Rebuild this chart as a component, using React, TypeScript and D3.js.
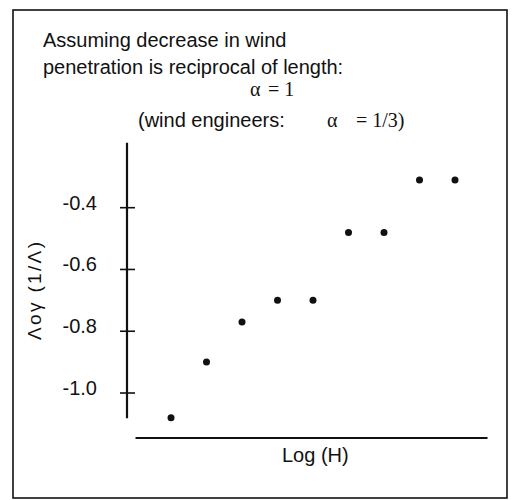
import React from "react";
import * as d3 from "d3";

const pointIndex = [1, 2, 3, 4, 5, 6, 7, 8, 9];
const pointValues = [-1.08, -0.9, -0.77, -0.7, -0.7, -0.48, -0.48, -0.31, -0.31];
const yTicks = [-0.4, -0.6, -0.8, -1.0];
const yTickLabels = ["-0.4", "-0.6", "-0.8", "-1.0"];
const titleLines = ["Assuming decrease in wind", "penetration is reciprocal of length:"];
const xLabel = "Log (H)";
const yLabel = "Λογ (1/Λ)";

export default function App() {
  const x = d3.scaleLinear().domain([0, 10]).range([135.5, 490.5]);
  const y = d3.scaleLinear().domain([-1.0, -0.4]).range([393, 207.7]);
  const sans = "'Liberation Sans', Arial, Helvetica, sans-serif";
  const serif = "'Liberation Serif', 'Times New Roman', serif";
  const data = pointIndex.map((d, i) => ({ x: d, y: pointValues[i] }));
  return (
    <svg width={512} height={500} style={{ position: "absolute", left: 0, top: 0, background: "#fff" }}>
      <rect x={0} y={0} width={512} height={500} fill="#fff" />
      <rect x={13} y={10} width={494} height={488} fill="none" stroke="#111" strokeWidth={1.6} />
      <text x={43} y={47} fontFamily={sans} fontSize={20} fill="#111">{titleLines[0]}</text>
      <text x={43} y={74} fontFamily={sans} fontSize={20} fill="#111">{titleLines[1]}</text>
      <text x={250} y={96} fontFamily={serif} fontSize={20} fill="#111">α</text>
      <text x={268} y={96} fontFamily={serif} fontSize={20} fill="#111">= 1</text>
      <text x={138} y={127} fontFamily={sans} fontSize={20} fill="#111">(wind engineers:</text>
      <text x={327} y={127} fontFamily={serif} fontSize={20} fill="#111">α</text>
      <text x={356} y={127} fontFamily={serif} fontSize={20} fill="#111">= 1/3)</text>
      {/* y axis */}
      <line x1={127} x2={127} y1={y(-0.19)} y2={y(-1.082)} stroke="#111" strokeWidth={2.2} />
      {yTicks.map((t, i) => (
        <g key={t}>
          <line x1={120} x2={135} y1={y(t)} y2={y(t)} stroke="#111" strokeWidth={1.6} />
          <text x={97} y={y(t) + 2} textAnchor="end" fontFamily={sans} fontSize={20} fill="#111">
            {yTickLabels[i]}
          </text>
        </g>
      ))}
      <text
        transform="translate(41,291) rotate(-90)"
        textAnchor="middle"
        fontFamily={sans}
        fontSize={19}
        textLength={98}
        lengthAdjust="spacing"
        fill="#111"
      >
        {yLabel}
      </text>
      {/* x axis */}
      <line x1={x(0)} x2={x(10) - 3} y1={438} y2={438} stroke="#111" strokeWidth={1.8} />
      <text x={282} y={462} fontFamily={sans} fontSize={20} fill="#111">{xLabel}</text>
      {data.map((d, i) => (
        <circle key={i} cx={x(d.x)} cy={y(d.y)} r={3.5} fill="#111" />
      ))}
    </svg>
  );
}
